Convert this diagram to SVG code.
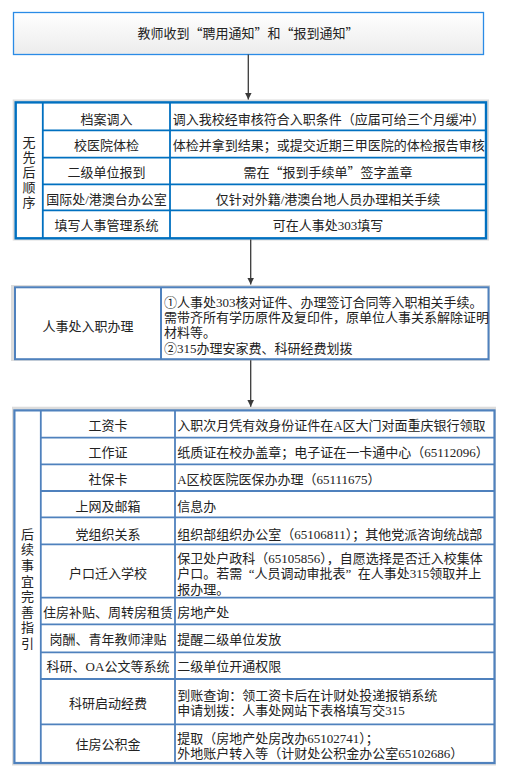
<svg xmlns="http://www.w3.org/2000/svg" width="506" height="767" viewBox="0 0 506 767">
<defs>
<linearGradient id="gStart" x1="0" y1="0" x2="0" y2="1">
<stop offset="0" stop-color="#ffffff"/>
<stop offset="1" stop-color="#ececec"/>
</linearGradient>
<marker id="arr" markerUnits="userSpaceOnUse" markerWidth="8" markerHeight="8" refX="6.6" refY="3.3" orient="auto">
<path d="M0,0 L6.6,3.3 L0,6.6 z" fill="#3a3a3a"/>
</marker>
</defs>
<style>
text{font-family:"Liberation Serif","Noto Sans CJK SC",serif;font-size:13px;fill:#222}
.q{font-family:"Noto Sans CJK SC",sans-serif}
.m{text-anchor:middle}
.shadow{fill:#dcdcdc}
.cell{fill:#ffffff}
.b1{stroke:#0070c0;fill:none}
.b2{stroke:#4f81bd;fill:none}
.conn{stroke:#3a3a3a;stroke-width:1.3;fill:none;marker-end:url(#arr)}
</style>

<g id="start">
<rect x="13.5" y="12.5" width="470" height="42" fill="url(#gStart)" stroke="#2a8be6" stroke-width="1.3"/>
<text class="m" x="248" y="38.2">教师收到<tspan class="q">“</tspan>聘用通知<tspan class="q">”</tspan>和<tspan class="q">“</tspan>报到通知<tspan class="q">”</tspan></text>
</g>

<g id="table-unordered">
<rect class="shadow" x="12.7" y="99.5" width="476.3" height="141"/>
<rect class="cell" x="15.7" y="102.4" width="470.3" height="135.9"/>
<rect class="b1" x="15.7" y="102.4" width="470.3" height="135.9" stroke-width="2.4"/>
<path class="b1" stroke-width="1.8" d="M42.8,102.4V238.3M170,102.4V238.3M42.8,130.4H486M42.8,157.7H486M42.8,184.3H486M42.8,210.3H486"/>
<g id="t1-label">
<text class="m" x="29" y="146.6">无</text>
<text class="m" x="29" y="161.6">先</text>
<text class="m" x="29" y="176.6">后</text>
<text class="m" x="29" y="191.6">顺</text>
<text class="m" x="29" y="206.6">序</text>
</g>
<g id="t1-r1"><text class="m" x="106.5" y="123.6">档案调入</text><text x="172.7" y="123.6">调入我校经审核符合入职条件（应届可给三个月缓冲）</text></g>
<g id="t1-r2"><text class="m" x="106.5" y="150.4">校医院体检</text><text x="172.7" y="150.4">体检并拿到结果；或提交近期三甲医院的体检报告审核</text></g>
<g id="t1-r3"><text class="m" x="106.5" y="177">二级单位报到</text><text class="m" x="328" y="177">需在<tspan class="q">“</tspan>报到手续单<tspan class="q">”</tspan>签字盖章</text></g>
<g id="t1-r4"><text class="m" x="106.5" y="203.7">国际处/港澳台办公室</text><text class="m" x="328" y="203.7">仅针对外籍/港澳台地人员办理相关手续</text></g>
<g id="t1-r5"><text class="m" x="106.5" y="229.9">填写人事管理系统</text><text class="m" x="328" y="229.9">可在人事处303填写</text></g>
</g>

<g id="table-hr">
<rect class="shadow" x="11" y="285" width="479" height="76"/>
<rect class="cell" x="15" y="287.3" width="473.5" height="71.9"/>
<rect class="b2" x="15" y="287.3" width="473.5" height="71.9" stroke-width="2"/>
<path class="b2" stroke-width="2" d="M161,287.3V359.2"/>
<text class="m" x="88" y="330.6">人事处入职办理</text>
<text x="164" y="306.6">①人事处303核对证件、办理签订合同等入职相关手续。</text>
<text x="164" y="322">需带齐所有学历原件及复印件，原单位人事关系解除证明</text>
<text x="164" y="337.4">材料等。</text>
<text x="164" y="352.8">②315办理安家费、科研经费划拨</text>
</g>

<g id="table-followup">
<rect class="shadow" x="12" y="406.7" width="484" height="358.8"/>
<rect class="cell" x="14.4" y="410.4" width="480.1" height="352.6"/>
<rect class="b2" x="14.4" y="410.4" width="480.1" height="352.6" stroke-width="2.2"/>
<path class="b2" stroke-width="1.8" d="M40.8,410.4V763M175,410.4V763M40.8,437.7H494.5M40.8,464.3H494.5M40.8,491H494.5M40.8,517.3H494.5M40.8,544.3H494.5M40.8,597.7H494.5M40.8,624.3H494.5M40.8,652.3H494.5M40.8,679H494.5M40.8,724.3H494.5"/>
<g id="t3-label">
<text class="m" x="27.5" y="538.7">后</text>
<text class="m" x="27.5" y="554.3">续</text>
<text class="m" x="27.5" y="569.9">事</text>
<text class="m" x="27.5" y="585.5">宜</text>
<text class="m" x="27.5" y="601.1">完</text>
<text class="m" x="27.5" y="616.7">善</text>
<text class="m" x="27.5" y="632.3">指</text>
<text class="m" x="27.5" y="647.9">引</text>
</g>
<g id="t3-r1"><text class="m" x="108" y="430.2">工资卡</text><text x="177.2" y="430.2">入职次月凭有效身份证件在A区大门对面重庆银行领取</text></g>
<g id="t3-r2"><text class="m" x="108" y="457.4">工作证</text><text x="177.2" y="457.4">纸质证在校办盖章；电子证在一卡通中心（65112096）</text></g>
<g id="t3-r3"><text class="m" x="108" y="484.1">社保卡</text><text x="177.2" y="484.1">A区校医院医保办办理（65111675）</text></g>
<g id="t3-r4"><text class="m" x="108" y="511.1">上网及邮箱</text><text x="177.2" y="511.1">信息办</text></g>
<g id="t3-r5"><text class="m" x="108" y="538.7">党组织关系</text><text x="177.2" y="538.7">组织部组织办公室（65106811）；其他党派咨询统战部</text></g>
<g id="t3-r6"><text class="m" x="108" y="578.2">户口迁入学校</text>
<text x="177.2" y="562.6">保卫处户政科（65105856），自愿选择是否迁入校集体</text>
<text x="177.2" y="578.2">户口。若需<tspan dx="6.5">“</tspan>人员调动审批表”<tspan dx="6.5">在</tspan>人事处315领取并上</text>
<text x="177.2" y="593.9">报办理。</text></g>
<g id="t3-r7"><text class="m" x="108" y="617.4">住房补贴、周转房租赁</text><text x="177.2" y="617.4">房地产处</text></g>
<g id="t3-r8"><text class="m" x="108" y="643.6">岗酬、青年教师津贴</text><text x="177.2" y="643.6">提醒二级单位发放</text></g>
<g id="t3-r9"><text class="m" x="108" y="671.1">科研、OA公文等系统</text><text x="177.2" y="671.1">二级单位开通权限</text></g>
<g id="t3-r10"><text class="m" x="108" y="707.6">科研启动经费</text>
<text x="177.2" y="700.2">到账查询：领工资卡后在计财处投递报销系统</text>
<text x="177.2" y="715.4">申请划拨：人事处网站下表格填写交315</text></g>
<g id="t3-r11"><text class="m" x="108" y="749.4">住房公积金</text>
<text x="177.2" y="742.9">提取（房地产处房改办65102741）；</text>
<text x="177.2" y="757.7">外地账户转入等（计财处公积金办公室65102686）</text></g>
</g>

<g id="connectors">
<line class="conn" x1="248.3" y1="54.5" x2="248.3" y2="99.5"/>
<line class="conn" x1="250.7" y1="239.5" x2="250.7" y2="284.5"/>
<line class="conn" x1="250.7" y1="360.2" x2="250.7" y2="406.7"/>
</g>
</svg>
